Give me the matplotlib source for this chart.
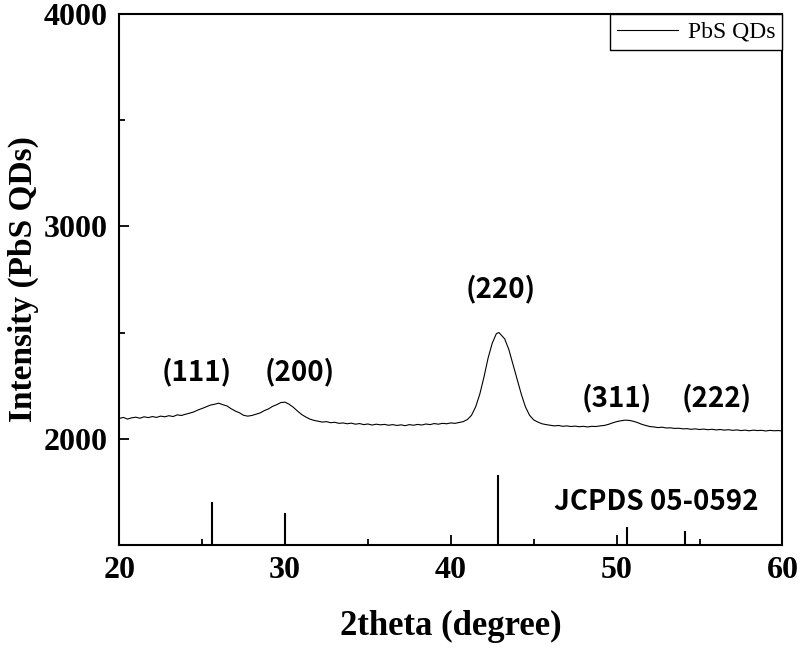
import matplotlib
matplotlib.use("Agg")
import matplotlib.pyplot as plt
from matplotlib.ticker import MultipleLocator

# XRD pattern (2theta in degree, intensity in counts)
two_theta = [
    20.00, 20.25, 20.50, 20.75, 21.00, 21.25, 21.50, 21.75, 22.00, 22.25,
    22.50, 22.75, 23.00, 23.25, 23.50, 23.75, 24.00, 24.25, 24.50, 24.75,
    25.00, 25.25, 25.50, 25.75, 26.00, 26.25, 26.50, 26.75, 27.00, 27.25,
    27.50, 27.75, 28.00, 28.25, 28.50, 28.75, 29.00, 29.25, 29.50, 29.75,
    30.00, 30.25, 30.50, 30.75, 31.00, 31.25, 31.50, 31.75, 32.00, 32.25,
    32.50, 32.75, 33.00, 33.25, 33.50, 33.75, 34.00, 34.25, 34.50, 34.75,
    35.00, 35.25, 35.50, 35.75, 36.00, 36.25, 36.50, 36.75, 37.00, 37.25,
    37.50, 37.75, 38.00, 38.25, 38.50, 38.75, 39.00, 39.25, 39.50, 39.75,
    40.00, 40.25, 40.50, 40.75, 41.00, 41.25, 41.50, 41.75, 42.00, 42.25,
    42.50, 42.75, 42.90, 43.00, 43.25, 43.50, 43.75, 44.00, 44.25, 44.50,
    44.75, 45.00, 45.25, 45.50, 45.75, 46.00, 46.25, 46.50, 46.75, 47.00,
    47.25, 47.50, 47.75, 48.00, 48.25, 48.50, 48.75, 49.00, 49.25, 49.50,
    49.75, 50.00, 50.25, 50.50, 50.75, 51.00, 51.25, 51.50, 51.75, 52.00,
    52.25, 52.50, 52.75, 53.00, 53.25, 53.50, 53.75, 54.00, 54.25, 54.50,
    54.75, 55.00, 55.25, 55.50, 55.75, 56.00, 56.25, 56.50, 56.75, 57.00,
    57.25, 57.50, 57.75, 58.00, 58.25, 58.50, 58.75, 59.00, 59.25, 59.50,
    59.75, 60.00,
]
intensity = [
    2095, 2100, 2092, 2098, 2101, 2096, 2103, 2099, 2104, 2100,
    2106, 2103, 2108, 2104, 2112, 2109, 2115, 2120, 2126, 2135,
    2142, 2150, 2158, 2162, 2167, 2160, 2154, 2141, 2130, 2122,
    2110, 2106, 2109, 2115, 2121, 2132, 2140, 2152, 2160, 2170,
    2172, 2162, 2148, 2130, 2114, 2102, 2092, 2086, 2082, 2078,
    2080, 2075, 2077, 2072, 2074, 2070, 2073, 2068, 2071, 2066,
    2069, 2064, 2068, 2065, 2067, 2063, 2066, 2062, 2065, 2061,
    2066, 2063, 2067, 2064, 2069, 2066, 2071, 2068, 2072, 2070,
    2074, 2072, 2076, 2080, 2090, 2110, 2150, 2210, 2290, 2380,
    2450, 2495, 2500, 2492, 2470, 2420, 2350, 2280, 2210, 2150,
    2110, 2088, 2078, 2070, 2066, 2063, 2060, 2062, 2058, 2060,
    2057, 2059, 2056, 2058, 2055, 2058, 2057, 2060, 2062, 2067,
    2074, 2080, 2084, 2087, 2086, 2082, 2076, 2068, 2062, 2057,
    2055, 2052, 2054, 2050, 2051, 2048, 2049, 2046, 2047, 2044,
    2046, 2043, 2045, 2042, 2044, 2041, 2043, 2040, 2042, 2039,
    2041, 2038, 2040, 2037, 2040, 2038, 2039, 2036, 2039, 2037,
    2038, 2036,
]

# reference card JCPDS 05-0592 (stick positions and tops)
ref_pos = [25.6, 30.0, 42.85, 50.6, 54.1]
ref_top = [1700, 1650, 1830, 1582, 1566]

# Miller indices labels
hkl_text = ["(111)", "(200)", "(220)", "(311)", "(222)"]
hkl_x = [24.7, 30.9, 43.0, 50.0, 56.05]
hkl_y = [2315, 2315, 2705, 2193, 2193]

serif = ["Liberation Serif", "DejaVu Serif"]
sans = ["Noto Sans CJK KR", "DejaVu Sans"]

fig = plt.figure(figsize=(8, 6.5), dpi=100)
ax = fig.add_axes([0.149, 0.162, 0.829, 0.816])

ax.plot(two_theta, intensity, color="black", lw=0.8, label="PbS QDs")
ax.vlines(ref_pos, 1500, ref_top, color="black", lw=1.5)

for t, x, y in zip(hkl_text, hkl_x, hkl_y):
    ax.text(x, y, t, ha="center", va="center", fontsize=20,
            fontweight="bold", family=sans)
ax.text(52.4, 1703, "JCPDS 05-0592", ha="center", va="center", fontsize=20,
        fontweight="bold", family=sans)

ax.set_xlim(20, 60)
ax.set_ylim(1500, 4000)
ax.xaxis.set_major_locator(MultipleLocator(10))
ax.xaxis.set_minor_locator(MultipleLocator(5))
ax.yaxis.set_major_locator(MultipleLocator(1000))
ax.yaxis.set_minor_locator(MultipleLocator(500))
ax.set_yticks([2000, 3000, 4000])
ax.tick_params(which="both", direction="in", width=1.3)
ax.tick_params(which="major", length=7, pad=8)
ax.tick_params(which="minor", length=4)
for lab in ax.get_xticklabels() + ax.get_yticklabels():
    lab.set_family(serif)
    lab.set_fontweight("bold")
    lab.set_fontsize(23)
for s in ax.spines.values():
    s.set_linewidth(1.5)

ax.set_xlabel("2theta (degree)", family=serif, fontweight="bold",
              fontsize=25, labelpad=18)
ax.set_ylabel("Intensity (PbS QDs)", family=serif, fontweight="bold",
              fontsize=24, labelpad=4)

leg = ax.legend(loc="upper right", borderaxespad=0, fancybox=False,
                framealpha=1, edgecolor="black", handlelength=2.6,
                prop={"family": serif, "size": 17}, borderpad=0.3,
                handletextpad=0.4)
leg.get_frame().set_linewidth(1.0)

fig.savefig("out.png", dpi=100)
